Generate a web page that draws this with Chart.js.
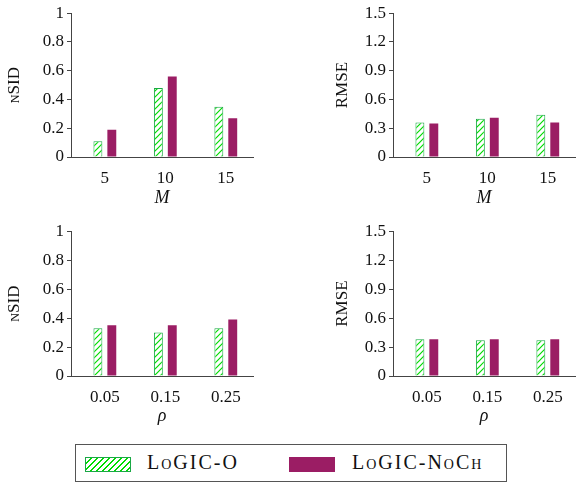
<!DOCTYPE html>
<html>
<head>
<meta charset="utf-8">
<script src="https://cdn.jsdelivr.net/npm/chart.js@4"></script>
<style>
    body { margin: 0; background: #fff; }
    .wrap { position: relative; width: 576px; height: 482px; overflow: hidden; }
    canvas { position: absolute; }
    #c1 { left: 0; top: 0; }
    #c2 { left: 328px; top: 0; }
    #c3 { left: 0; top: 218px; }
    #c4 { left: 328px; top: 218px; }
    .legend {
        position: absolute; left: 75px; top: 444px; width: 430px; height: 36px;
        border: 1px solid #555; font-family: "Liberation Serif", serif; font-size: 20px; color: #111;
    }
    .swatch { position: absolute; top: 12px; width: 46px; height: 15px; box-sizing: border-box; }
    .sw-o {
        left: 9px; border: 1px solid #1aa845;
        background: repeating-linear-gradient(135deg, #fff 0px, #fff 3px, #00dd00 3px, #00dd00 4.3px);
    }
    .sw-n { left: 213px; background: #9b1d64; }
    .txt { position: absolute; top: 6px; font-variant: small-caps; letter-spacing: 2px; white-space: nowrap; }
</style>
</head>
<body>
<div class="wrap">
    <canvas id="c1" width="260" height="215"></canvas>
    <canvas id="c2" width="248" height="215"></canvas>
    <canvas id="c3" width="260" height="215"></canvas>
    <canvas id="c4" width="248" height="215"></canvas>
    <div class="legend">
        <div class="swatch sw-o"></div><span class="txt" style="left:71px">LoGIC-O</span>
        <div class="swatch sw-n"></div><span class="txt" style="left:276px">LoGIC-NoCh</span>
    </div>
</div>
<script>
// categories (x positions) and their tick labels
const mValues = [5, 10, 15];
const mLabels = ['5', '10', '15'];
const rhoValues = [0.05, 0.15, 0.25];
const rhoLabels = ['0.05', '0.15', '0.25'];

// series values
const nsidM_O = [0.11, 0.48, 0.35];
const nsidM_NoCh = [0.19, 0.56, 0.27];
const rmseM_O = [0.36, 0.40, 0.44];
const rmseM_NoCh = [0.35, 0.41, 0.36];
const nsidRho_O = [0.33, 0.30, 0.33];
const nsidRho_NoCh = [0.35, 0.35, 0.39];
const rmseRho_O = [0.38, 0.37, 0.37];
const rmseRho_NoCh = [0.38, 0.38, 0.38];

// y tick labels
const nsidTicks = [0, 0.2, 0.4, 0.6, 0.8, 1];
const rmseTicks = [0, 0.3, 0.6, 0.9, 1.2, 1.5];

const serif = "'Liberation Serif', serif";
const axisColor = '#444';
Chart.defaults.font.family = serif;

// hatched fill for LoGIC-O
function makeHatch() {
    const c = document.createElement('canvas');
    c.width = 6; c.height = 6;
    const g = c.getContext('2d');
    g.fillStyle = '#fff';
    g.fillRect(0, 0, 6, 6);
    g.strokeStyle = '#00dd00';
    g.lineWidth = 1.2;
    g.beginPath();
    g.moveTo(-1, 7); g.lineTo(7, -1);
    g.moveTo(-1, 1); g.lineTo(1, -1);
    g.moveTo(5, 7); g.lineTo(7, 5);
    g.stroke();
    return g.createPattern(c, 'repeat');
}

function makeChart(id, xs, xLabels, dataO, dataN, ticks, yTitle, xTitle, axisLeft, padRight, areaBottom) {
    const canvas = document.getElementById(id);
    const H = canvas.height;
    const step = xs[1] - xs[0];
    const pts = arr => arr.map((v, i) => ({ x: xs[i], y: v }));
    return new Chart(canvas.getContext('2d'), {
        type: 'bar',
        data: {
            datasets: [
                {
                    label: 'LoGIC-O',
                    data: pts(dataO),
                    backgroundColor: makeHatch(),
                    borderColor: '#1aa845',
                    borderWidth: 1,
                    categoryPercentage: 0.46,
                    barPercentage: 0.64
                },
                {
                    label: 'LoGIC-NoCh',
                    data: pts(dataN),
                    backgroundColor: '#9b1d64',
                    borderWidth: 0,
                    categoryPercentage: 0.46,
                    barPercentage: 0.64
                }
            ]
        },
        options: {
            responsive: false,
            animation: false,
            layout: { padding: { top: 13, left: 0, right: padRight, bottom: 0 } },
            plugins: { legend: { display: false }, tooltip: { enabled: false } },
            scales: {
                x: {
                    type: 'linear',
                    offset: false,
                    min: xs[0] - 0.56 * step,
                    max: xs[xs.length - 1] + 0.45 * step,
                    afterBuildTicks: function(s) { s.ticks = xs.map(v => ({ value: v })); },
                    grid: { display: false, drawTicks: false },
                    border: { display: true, color: axisColor, width: 1 },
                    ticks: {
                        font: { family: serif, size: 17 }, color: '#111', padding: 11,
                        callback: (v, i) => xLabels[i]
                    },
                    title: {
                        display: true, text: xTitle, color: '#111',
                        font: { family: serif, size: 18, style: 'italic' },
                        padding: { top: 0, bottom: 6 }
                    },
                    afterFit: function(s) { s.height = H - areaBottom; }
                },
                y: {
                    min: 0,
                    max: ticks[ticks.length - 1],
                    afterBuildTicks: function(s) { s.ticks = ticks.map(v => ({ value: v })); },
                    grid: { drawOnChartArea: false, drawTicks: true, tickLength: 4, color: axisColor },
                    border: { display: true, color: axisColor, width: 1 },
                    ticks: {
                        font: { family: serif, size: 17 }, color: '#111', padding: 3,
                        callback: v => String(v)
                    },
                    title: {
                        display: true, text: yTitle, color: '#111',
                        font: { family: serif, size: 17, weight: 'small-caps' },
                        padding: { top: 4, bottom: 0 }
                    },
                    afterFit: function(s) { s.width = axisLeft; }
                }
            }
        }
    });
}

makeChart('c1', mValues, mLabels, nsidM_O, nsidM_NoCh, nsidTicks, 'nSID', 'M', 71, 7, 157);
makeChart('c2', mValues, mLabels, rmseM_O, rmseM_NoCh, rmseTicks, 'RMSE', 'M', 65, 1, 157);
makeChart('c3', rhoValues, rhoLabels, nsidRho_O, nsidRho_NoCh, nsidTicks, 'nSID', 'ρ', 71, 7, 158);
makeChart('c4', rhoValues, rhoLabels, rmseRho_O, rmseRho_NoCh, rmseTicks, 'RMSE', 'ρ', 65, 1, 158);
</script>
</body>
</html>
